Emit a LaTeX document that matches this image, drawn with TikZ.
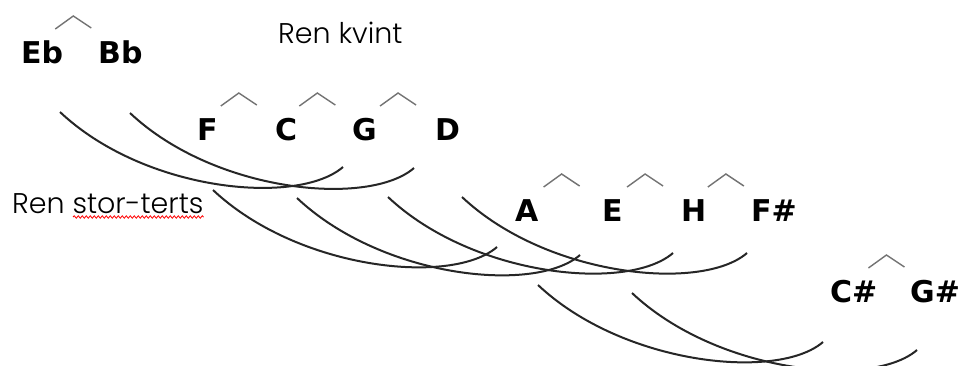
\documentclass[tikz,border=0pt]{standalone}
\usepackage{fontspec}
\usetikzlibrary{calc,decorations.pathmorphing}
\newfontfamily\notefont{DejaVu Sans}
\newfontfamily\lightfont{Poppins Light}
\tikzset{
  note/.style={font=\notefont\bfseries\fontsize{30}{36}\selectfont, inner sep=0pt, anchor=base west},
  caption/.style={font=\lightfont\fontsize{28.5}{34}\selectfont, inner sep=0pt, anchor=base west, text=black},
  terts/.style={to path={.. controls ($(\tikztostart)+(85,80)$) and ($(\tikztotarget)+(-45,39)$) .. (\tikztotarget)}},
  arcline/.style={line width=2pt, draw=black!85},
  caretline/.style={line width=1.4pt, draw=black!55},
}
\newcommand\notecaret[2]{\draw[caretline] ($(#1.base)!0.5!(#2.base)+(-26,-34)$) -- ++(18,-13) -- ++(18,12);}
\begin{document}
\begin{tikzpicture}[x=1pt,y=-1pt]
\useasboundingbox (0,0) rectangle (964,365);
\fill[white] (0,0) rectangle (964,365);
\clip (0,0) rectangle (964,365);
% labels
\node[note] (Eb) at (21,63) {Eb};
\node[note] (Bb) at (98,63) {Bb};
\node[note] (F) at (197,140) {F};
\node[note] (C) at (275,140) {C};
\node[note] (G) at (352,140) {G};
\node[note] (D) at (435,140) {D};
\node[note] (A) at (515,221) {A};
\node[note] (E) at (602,221) {E};
\node[note] (H) at (681,221) {H};
\node[note] (Fs) at (751,221) {F\#};
\node[note] (Cs) at (830,302) {C\#};
\node[note] (Gs) at (910,302) {G\#};
\node[caption] (kvint) at (278,43) {Ren kvint};
\node[caption] (stor) at (12,213) {Ren stor-terts};
\draw[red, line width=0.8pt, decorate, decoration={snake, amplitude=1.2pt, segment length=4pt}]
  ([xshift=61pt,yshift=-4pt]stor.base west) -- ([yshift=-4pt]stor.base east);
% carets (pure fifths)
\notecaret{Eb}{Bb}
\notecaret{F}{C}
\notecaret{C}{G}
\notecaret{G}{D}
\notecaret{A}{E}
\notecaret{E}{H}
\notecaret{H}{Fs}
\notecaret{Cs}{Gs}
% arcs (pure major thirds)
\draw[arcline] ([shift={(39,49)}]Eb.base west) to[terts] ([shift={(-9,27)}]G.base west);
\draw[arcline] ([shift={(32,50)}]Bb.base west) to[terts] ([shift={(-21,28)}]D.base west);
\draw[arcline] ([shift={(16,50)}]F.base west) to[terts] ([shift={(-18,26)}]A.base west);
\draw[arcline] ([shift={(22,58)}]C.base west) to[terts] ([shift={(-22,34)}]E.base west);
\draw[arcline] ([shift={(36,57)}]G.base west) to[terts] ([shift={(-8,32)}]H.base west);
\draw[arcline] ([shift={(27,57)}]D.base west) to[terts] ([shift={(-4,32)}]Fs.base west);
\draw[arcline] ([shift={(23,64)}]A.base west) to[terts] ([shift={(-7,40)}]Cs.base west);
\draw[arcline] ([shift={(30,72)}]E.base west) to[terts] ([shift={(7,48)}]Gs.base west);
\end{tikzpicture}
\end{document}
